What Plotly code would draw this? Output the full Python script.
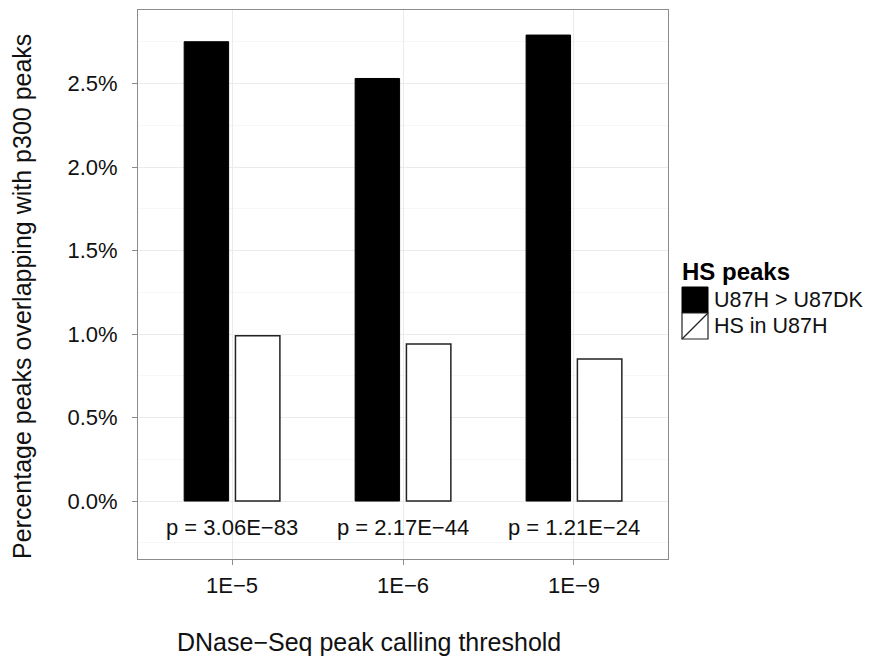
import plotly.graph_objects as go

categories = ["1E\u22125", "1E\u22126", "1E\u22129"]
series_names = ["U87H > U87DK", "HS in U87H"]
u87h_gt_u87dk = [2.75, 2.53, 2.79]
hs_in_u87h = [0.99, 0.94, 0.85]
pvalue_labels = ["p = 3.06E\u221283", "p = 2.17E\u221244", "p = 1.21E\u221224"]
pvalue_y = -0.16
y_ticks = [0.0, 0.5, 1.0, 1.5, 2.0, 2.5]
y_tick_labels = [f"{v:.1f}%" for v in y_ticks]
x_title = "DNase\u2212Seq peak calling threshold"
y_title = "Percentage peaks overlapping with p300 peaks"
legend_title = "HS peaks"

FONT = "Liberation Sans, Arial, Helvetica, sans-serif"
xpos = [1, 2, 3]

W, H = 870, 657
L, R, T, B = 138, 202, 10, 98
PW, PH = W - L - R, H - T - B

fig = go.Figure()
fig.add_trace(go.Bar(
    x=xpos, y=u87h_gt_u87dk, name=series_names[0],
    width=0.26, offset=-0.28,
    marker=dict(color="black", line=dict(color="black", width=1)),
    showlegend=False,
))
fig.add_trace(go.Bar(
    x=xpos, y=hs_in_u87h, name=series_names[1],
    width=0.26, offset=0.02,
    marker=dict(color="white", line=dict(color="#222222", width=1.5)),
    showlegend=False,
))

for xp, txt in zip(xpos, pvalue_labels):
    fig.add_annotation(x=xp, y=pvalue_y, text=txt, showarrow=False,
                       xref="x", yref="y", yanchor="middle",
                       font=dict(family=FONT, size=22, color="#111111"))

# helpers: window pixel -> paper coords
def px_x(v):
    return (v - L) / PW

def px_y(v):
    return (T + PH - v) / PH

# axis titles (placed as in the reference, off the panel centre)
fig.add_annotation(xref="paper", yref="paper", x=px_x(369), y=px_y(642),
                   text=x_title, showarrow=False, xanchor="center", yanchor="middle",
                   font=dict(family=FONT, size=25, color="#111111"))
fig.add_annotation(xref="paper", yref="paper", x=px_x(22), y=px_y(297),
                   text=y_title, showarrow=False, textangle=-90,
                   xanchor="center", yanchor="middle",
                   font=dict(family=FONT, size=25, color="#111111"))

# custom legend (ggplot-style keys)
fig.add_shape(type="rect", xref="paper", yref="paper",
              x0=px_x(682), x1=px_x(708), y0=px_y(313), y1=px_y(287),
              fillcolor="black", line=dict(color="black", width=1))
fig.add_shape(type="rect", xref="paper", yref="paper",
              x0=px_x(682), x1=px_x(708), y0=px_y(339), y1=px_y(313),
              fillcolor="white", line=dict(color="#222222", width=1.2))
fig.add_shape(type="line", xref="paper", yref="paper",
              x0=px_x(682), x1=px_x(708), y0=px_y(339), y1=px_y(313),
              line=dict(color="#222222", width=1.2))
fig.add_annotation(xref="paper", yref="paper", x=px_x(680), y=px_y(271),
                   text=f"<b>{legend_title}</b>", showarrow=False, xanchor="left", yanchor="middle",
                   font=dict(family=FONT, size=24, color="black"))
for name, yc in zip(series_names, [300, 326]):
    fig.add_annotation(xref="paper", yref="paper", x=px_x(712), y=px_y(yc),
                       text=name.replace(">", "&gt;"), showarrow=False, xanchor="left", yanchor="middle",
                       font=dict(family=FONT, size=21.5, color="#111111"))

fig.update_layout(
    width=W, height=H,
    margin=dict(l=L, r=R, t=T, b=B),
    paper_bgcolor="white", plot_bgcolor="white",
    font=dict(family=FONT, size=22, color="#111111"),
    barmode="overlay",
)
fig.update_xaxes(
    range=[0.45, 3.55],
    tickmode="array", tickvals=xpos, ticktext=categories,
    showgrid=True, gridcolor="#EBEBEB", gridwidth=1,
    showline=True, linecolor="#8C8C8C", linewidth=1, mirror=True,
    ticks="outside", ticklen=5, tickcolor="#8C8C8C",
    ticklabelstandoff=2,
    tickfont=dict(size=22, color="#111111"),
    zeroline=False,
)
fig.update_yaxes(
    range=[-0.347, 2.94],
    tickmode="array", tickvals=y_ticks, ticktext=y_tick_labels,
    showgrid=True, gridcolor="#EBEBEB", gridwidth=1,
    minor=dict(dtick=0.25, tick0=0.25, showgrid=True, gridcolor="#F7F7F7", gridwidth=1),
    showline=True, linecolor="#8C8C8C", linewidth=1, mirror=True,
    ticks="outside", ticklen=5, tickcolor="#8C8C8C",
    ticklabelstandoff=10,
    tickfont=dict(size=22, color="#111111"),
    zeroline=False,
)

fig.write_html("out.html",
               config={"displayModeBar": False},
               post_script="document.body.style.margin='0px';document.body.style.overflow='hidden';")
